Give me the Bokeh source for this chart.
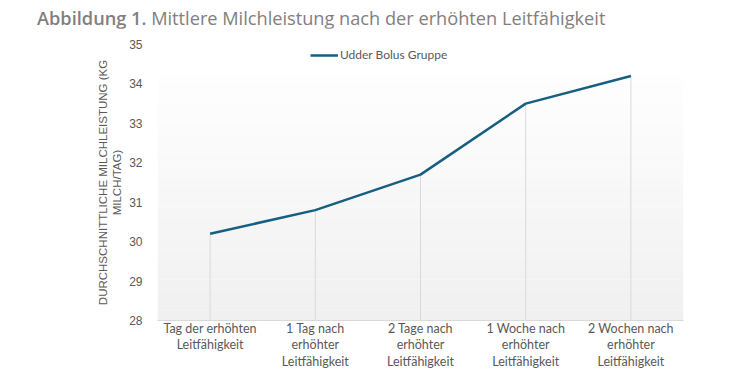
from bokeh.plotting import figure
from bokeh.models import FactorRange, Range1d, Div, BoxAnnotation, Legend, LegendItem, FixedTicker
from bokeh.layouts import column
from bokeh.embed import file_html
from bokeh.resources import INLINE

categories = [
    "Tag der erhöhten\nLeitfähigkeit",
    "1 Tag nach\nerhöhter\nLeitfähigkeit",
    "2 Tage nach\nerhöhter\nLeitfähigkeit",
    "1 Woche nach\nerhöhter\nLeitfähigkeit",
    "2 Wochen nach\nerhöhter\nLeitfähigkeit",
]
milk_yield = [30.2, 30.8, 31.7, 33.5, 34.2]
series_name = "Udder Bolus Gruppe"
y_ticks = [28, 29, 30, 31, 32, 33, 34, 35]

title_html = ('<div style="font-family:\'Open Sans\';font-size:18.2px;color:#808080;'
              'white-space:nowrap;padding-left:37px;padding-top:7px;line-height:22px;">'
              '<span style="font-weight:600">Abbildung 1.</span> Mittlere Milchleistung nach der erhöhten Leitfähigkeit</div>')
title = Div(text=title_html, width=743, height=28, margin=(0, 0, 0, 0))

p = figure(x_range=FactorRange(*categories, range_padding=0),
           y_range=Range1d(28, 35),
           width=743, height=344, output_backend="svg", toolbar_location=None,
           min_border_left=157, min_border_right=60, min_border_top=16, min_border_bottom=52)
p.outline_line_color = None
p.background_fill_color = "white"
p.border_fill_color = "white"
p.xgrid.grid_line_color = None
p.ygrid.grid_line_color = None

# subtle vertical gradient in plot area
n = 24
lo, hi = 28.0, 34.25
for i in range(n):
    b = lo + (hi - lo) * i / n
    t = lo + (hi - lo) * (i + 1) / n
    f = i / (n - 1)
    c = int(round(240 + (254 - 240) * f))
    p.add_layout(BoxAnnotation(bottom=b, top=t, fill_color="#%02x%02x%02x" % (c, c, c),
                               fill_alpha=1, line_color=None, level="underlay"))

p.segment(x0=categories, y0=[28] * len(categories), x1=categories, y1=milk_yield,
          line_color="#d9d9d9", line_width=1)
r = p.line(categories, milk_yield, line_color="#156082", line_width=2.5)

legend = Legend(items=[LegendItem(label=series_name, renderers=[r])],
                location=(153, 258), orientation="horizontal",
                background_fill_alpha=0, border_line_color=None,
                label_text_font="Lato", label_text_font_size="12px",
                label_text_color="#595959", glyph_width=28, glyph_height=14,
                label_height=14, label_standoff=2, padding=0, margin=0, spacing=0)
p.add_layout(legend)

p.yaxis.ticker = FixedTicker(ticks=y_ticks)
p.yaxis.axis_line_color = None
p.yaxis.major_tick_line_color = None
p.yaxis.minor_tick_line_color = None
p.yaxis.major_tick_out = 0
p.yaxis.minor_tick_out = 0
p.yaxis.major_label_text_font = "Liberation Sans"
p.yaxis.major_label_text_font_size = "12px"
p.yaxis.major_label_text_color = "#595959"
p.yaxis.major_label_standoff = 15
p.yaxis.axis_label = "DURCHSCHNITTLICHE MILCHLEISTUNG (KG\nMILCH/TAG)"
p.yaxis.axis_label_text_font = "Liberation Sans"
p.yaxis.axis_label_text_font_size = "11.5px"
p.yaxis.axis_label_text_font_style = "normal"
p.yaxis.axis_label_text_color = "#595959"
p.yaxis.axis_label_standoff = 3

p.xaxis.axis_line_color = "#d9d9d9"
p.xaxis.major_tick_line_color = None
p.xaxis.minor_tick_line_color = None
p.xaxis.major_tick_out = 0
p.xaxis.minor_tick_out = 0
p.xaxis.major_label_text_font = "Lato"
p.xaxis.major_label_text_font_size = "12.5px"
p.xaxis.major_label_text_line_height = 1.12
p.xaxis.major_label_text_color = "#595959"
p.xaxis.major_label_standoff = 0
p.xaxis.major_label_orientation = "horizontal"

layout = column(title, p, spacing=0)
open("out.html", "w").write(file_html(layout, INLINE))
